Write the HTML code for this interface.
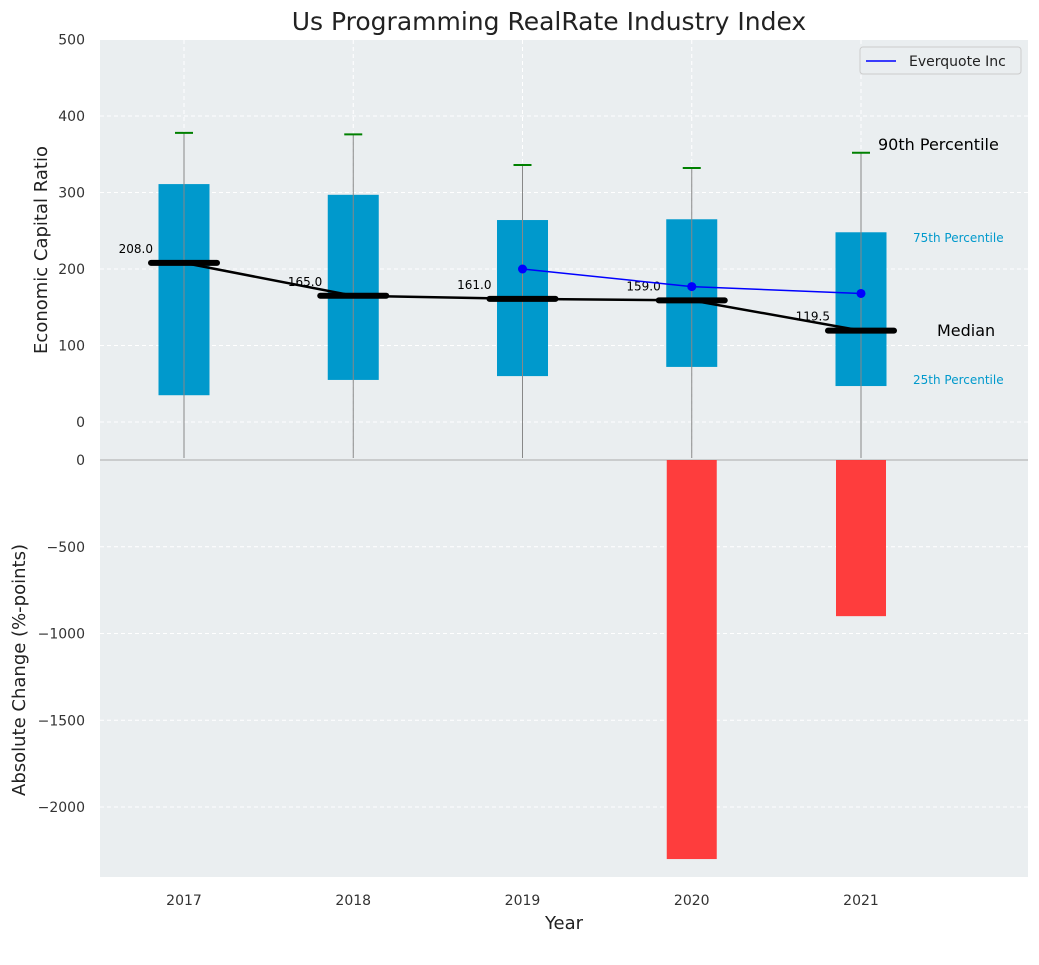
<!DOCTYPE html>
<html><head><meta charset="utf-8"><style>
body{margin:0;background:#fff;font-family:"Liberation Sans","DejaVu Sans",sans-serif}
svg text{font-family:"DejaVu Sans","Liberation Sans",sans-serif}
</style></head><body>
<svg id="c" width="1039" height="942" xmlns="http://www.w3.org/2000/svg"></svg>
<script>
const years=["2017","2018","2019","2020","2021"];
const q1=[35,55,60,72,47];
const q3=[311,297,264,265,248];
const p90=[378,376,336,332,352];
const medians=[208,165,161,159,119.5];
const everquote=[null,null,200,177,168];
const changes=[0,0,0,-2300,-900];
const topTicks=[0,100,200,300,400,500];
const botTicks=[0,-500,-1000,-1500,-2000];

const svg=document.getElementById('c');const NS="http://www.w3.org/2000/svg";
function el(t,a,txt,p){const e=document.createElementNS(NS,t);for(const k in a)e.setAttribute(k,a[k]);if(txt!=null)e.textContent=txt;(p||svg).appendChild(e);return e;}
const L=100,R=1028;
const xs=i=>184+i*169.25;
const yT=v=>422-v*0.765;
const yB=v=>460-v*(-0.1735)*-1*-1;
function yb(v){return 460+(-v)*0.1735;}
const TOPY0=40,TOPY1=459,BOTY1=877;
let g=el('g',{});

el('rect',{x:L,y:TOPY0,width:R-L,height:TOPY1-TOPY0,fill:'#eaeef0'},null,g);
let g2=el('g',{});

el('rect',{x:L,y:TOPY1,width:R-L,height:BOTY1-TOPY1,fill:'#eaeef0'},null,g2);
// grids
topTicks.forEach(t=>{el('line',{x1:L,x2:R,y1:yT(t),y2:yT(t),stroke:'#fff','stroke-dasharray':'4,3','stroke-width':1},null,g);
 const tx=el('text',{x:85,y:yT(t)+5,'text-anchor':'end','font-size':14,fill:'#333'},String(t),g);});
botTicks.forEach(t=>{el('line',{x1:L,x2:R,y1:yb(t),y2:yb(t),stroke:'#fff','stroke-dasharray':'4,3','stroke-width':1},null,g2);
 const tx=el('text',{x:85,y:yb(t)+5,'text-anchor':'end','font-size':14,fill:'#333'},t<0?'\u2212'+(-t):String(t),g2);});
years.forEach((y,i)=>{const x=xs(i);
 el('line',{x1:x,x2:x,y1:TOPY0,y2:BOTY1,stroke:'#fff','stroke-dasharray':'4,3'},null,g);
 const tx=el('text',{x:x,y:905,'text-anchor':'middle','font-size':14,fill:'#333'},y);});
el('line',{x1:L,x2:R,y1:460,y2:460,stroke:'#aaa','stroke-width':1});
// boxes
years.forEach((y,i)=>{const x=xs(i);
 const b=el('rect',{x:x-25.5,y:yT(q3[i]),width:51,height:yT(q1[i])-yT(q3[i]),fill:'#0099cc'});
 
 const w=el('line',{x1:x,x2:x,y1:yT(p90[i]),y2:458,stroke:'#888','stroke-width':1});
 
 el('line',{x1:x-9,x2:x+9,y1:yT(p90[i]),y2:yT(p90[i]),stroke:'green','stroke-width':2});
 if(changes[i]<0){const r=el('rect',{x:x-25,y:460,width:50,height:yb(changes[i])-460,fill:'#ff3333',opacity:0.95});
  }
});
// median connect line
let d=medians.map((m,i)=>(i?'L':'M')+xs(i)+','+yT(m)).join('');
const ml=el('path',{d:d,fill:'none',stroke:'#000','stroke-width':2.5});
medians.forEach((m,i)=>{const x=xs(i);
 const mk=el('line',{x1:x-33,x2:x+33,y1:yT(m),y2:yT(m),stroke:'#000','stroke-width':6,'stroke-linecap':'round'});
 
 const t=el('text',{x:x-31,y:yT(m)-10,'text-anchor':'end','font-size':12,fill:'#000'},m.toFixed(1));
 });
// everquote
const pts=everquote.map((v,i)=>v==null?null:[xs(i),yT(v)]).filter(p=>p);
const el2=el('path',{d:pts.map((p,i)=>(i?'L':'M')+p[0]+','+p[1]).join(''),fill:'none',stroke:'#0000ff','stroke-width':1.5});

pts.forEach(p=>{const c=el('circle',{cx:p[0],cy:p[1],r:4.5,fill:'#0000ff'});});
</script>
<svg width="0" height="0"></svg>
<div style="position:absolute;left:0;top:0;width:1039px;height:942px;pointer-events:none">
<svg width="1039" height="942" xmlns="http://www.w3.org/2000/svg">
<text x="549" y="30" text-anchor="middle" font-size="25" fill="#222" font-family="DejaVu Sans,sans-serif">Us Programming RealRate Industry Index</text>
<text transform="translate(47,250) rotate(-90)" text-anchor="middle" font-size="18" fill="#222" font-family="DejaVu Sans,sans-serif">Economic Capital Ratio</text>
<text transform="translate(25,670) rotate(-90)" text-anchor="middle" font-size="18" fill="#222" font-family="DejaVu Sans,sans-serif">Absolute Change (%-points)</text>
<text x="564" y="929" text-anchor="middle" font-size="18" fill="#222" font-family="DejaVu Sans,sans-serif">Year</text>
<text x="878" y="150" font-size="16" fill="#000" font-family="DejaVu Sans,sans-serif">90th Percentile</text>
<text x="913" y="242" font-size="12" fill="#0099cc" font-family="DejaVu Sans,sans-serif">75th Percentile</text>
<text x="937" y="336" font-size="16" fill="#000" font-family="DejaVu Sans,sans-serif">Median</text>
<text x="913" y="384" font-size="12" fill="#0099cc" font-family="DejaVu Sans,sans-serif">25th Percentile</text>
<g>
<rect x="860" y="47" width="161" height="27" rx="3" fill="#eaeef0" stroke="#ccc"/>
<line x1="866" x2="896" y1="61" y2="61" stroke="#0000ff" stroke-width="1.5"/>
<text x="909" y="66" font-size="14" fill="#222" font-family="DejaVu Sans,sans-serif">Everquote Inc</text>
</g>
</svg></div>
</body></html>
